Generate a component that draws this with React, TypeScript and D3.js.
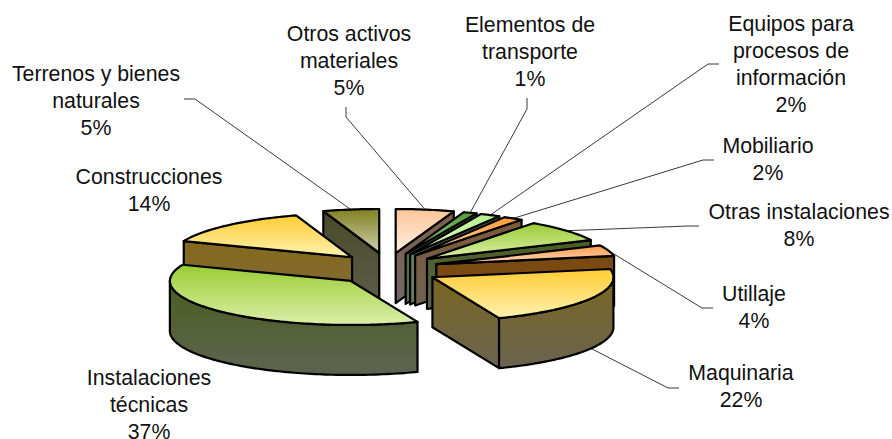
import React from "react";
import * as d3 from "d3";

const categories = [
  "Otros activos materiales",
  "Elementos de transporte",
  "Equipos para procesos de información",
  "Mobiliario",
  "Otras instalaciones",
  "Utillaje",
  "Maquinaria",
  "Instalaciones técnicas",
  "Construcciones",
  "Terrenos y bienes naturales",
];
// they round to the printed percentages
const shares = [5.2, 1.2, 1.8, 1.8, 8, 4, 22, 37, 14, 5];

// [top start, top end, side start, side end]
const sliceColors = [
  ["#ffc596", "#ffefe4", "#7d5f48", "#70686a"],
  ["#4f9a3c", "#9fd08e", "#3f6b34", "#5a7558"],
  ["#b4f08c", "#e4fbd0", "#5f7f4a", "#6c7c62"],
  ["#ff9933", "#ffd9b0", "#7d5a38", "#6f6252"],
  ["#99cc33", "#dcefaa", "#4a5d20", "#5e6650"],
  ["#ff9a4a", "#ffdcc0", "#7a4a12", "#7a4a12"],
  ["#ffcc33", "#fff2b0", "#7a6620", "#6a6450"],
  ["#99cc33", "#dcefaa", "#4a5d20", "#5e6450"],
  ["#ffcc33", "#fff2b0", "#85681c", "#7e6c3c"],
  ["#808020", "#cfcfb0", "#4a4a2a", "#5c5c48"],
];

// label block: x centre, first baseline; leader: from -> elbow, ends on the slice rim
const labelLayout = [
  { x: 349, y: 41, from: [346, 107], elbow: [346, 117] },
  { x: 530, y: 32, from: [527, 98], elbow: [527, 109] },
  { x: 791, y: 31, from: [719, 64], elbow: [708, 64] },
  { x: 768, y: 153, from: [714, 160], elbow: [703, 160] },
  { x: 799, y: 219, from: [699, 226], elbow: [688, 226] },
  { x: 754, y: 301, from: [713, 308], elbow: [702, 308] },
  { x: 741, y: 380, from: [679, 388], elbow: [668, 388] },
  { x: 149, y: 385, from: null, elbow: null },
  { x: 149, y: 184, from: null, elbow: null },
  { x: 96, y: 81, from: [184, 99], elbow: [195, 99] },
];
const labelLines = [
  ["Otros activos", "materiales"],
  ["Elementos de", "transporte"],
  ["Equipos para", "procesos de", "información"],
  ["Mobiliario"],
  ["Otras instalaciones"],
  ["Utillaje"],
  ["Maquinaria"],
  ["Instalaciones", "técnicas"],
  ["Construcciones"],
  ["Terrenos y bienes", "naturales"],
];

const width = 892;
const height = 439;
const cx = 387.3;
const cy = 269.3;
const rx = 181;
const ry = 44;
const explodeX = 51.5;
const explodeY = 16.5;
const depth = 50;
const lineHeight = 26.9;

const pie = d3.pie<number>().sort(null).startAngle(0).endAngle(2 * Math.PI);
const arcs = pie(shares);
const line = d3.line();

// back to front: right hand side clockwise, then the left hand side from the back
const drawOrder = [0, 1, 2, 3, 4, 5, 6, 9, 8, 7];

function centreOf(a: d3.PieArcDatum<number>): [number, number] {
  const mid = (a.startAngle + a.endAngle) / 2;
  return [cx + explodeX * Math.sin(mid), cy - explodeY * Math.cos(mid)];
}

function rimPoint(c: [number, number], angle: number, drop = 0): [number, number] {
  return [c[0] + rx * Math.sin(angle), c[1] - ry * Math.cos(angle) + drop];
}

function arcPoints(c: [number, number], a0: number, a1: number, drop = 0) {
  const steps = Math.max(2, Math.ceil((a1 - a0) / 0.02));
  return d3.range(steps + 1).map(i => rimPoint(c, a0 + ((a1 - a0) * i) / steps, drop));
}

function Slice({ index }: { index: number }) {
  const a = arcs[index];
  const c = centreOf(a);
  const { startAngle: a0, endAngle: a1 } = a;
  const bottom: [number, number] = [c[0], c[1] + depth];
  const paths: { d: string; fill: string }[] = [];
  const side = `url(#side${index})`;

  const cut = (angle: number) =>
    line([c, rimPoint(c, angle), rimPoint(c, angle, depth), bottom])! + "Z";
  if (Math.sin(a0) < -0.001) paths.push({ d: cut(a0), fill: side });
  if (Math.sin(a1) > 0.001) paths.push({ d: cut(a1), fill: side });

  const from = Math.max(a0, Math.PI / 2);
  const to = Math.min(a1, (3 * Math.PI) / 2);
  if (to > from) {
    const rim = [...arcPoints(c, from, to), ...arcPoints(c, from, to, depth).reverse()];
    paths.push({ d: line(rim)! + "Z", fill: side });
  }
  paths.push({
    d: line([c, ...arcPoints(c, a0, a1)])! + "Z",
    fill: `url(#top${index})`,
  });

  return (
    <g stroke="#000" strokeWidth={2.2} strokeLinejoin="round">
      {paths.map((p, i) => (
        <path key={i} d={p.d} fill={p.fill} />
      ))}
    </g>
  );
}

function Leader({ index }: { index: number }) {
  const l = labelLayout[index];
  if (!l.from) return null;
  const a = arcs[index];
  const mid = (a.startAngle + a.endAngle) / 2;
  const rimDrop = index === 6 ? depth : 0;
  const end = rimPoint(centreOf(a), mid, rimDrop);
  const pts = [l.from, ...(l.elbow ? [l.elbow] : []), end] as [number, number][];
  return <path d={line(pts)!} fill="none" stroke="#222" strokeWidth={0.9} />;
}

export default function App() {
  return (
    <svg width={width} height={height} style={{ position: "absolute", left: 0, top: 0 }}>
      <defs>
        {sliceColors.map((c, i) => (
          <React.Fragment key={i}>
            <linearGradient id={`top${i}`} x1="0" y1="0" x2="0" y2="1">
              <stop offset="0" stopColor={c[0]} />
              <stop offset="1" stopColor={c[1]} />
            </linearGradient>
            <linearGradient id={`side${i}`} x1="0" y1="0" x2="0" y2="1">
              <stop offset="0" stopColor={c[2]} />
              <stop offset="1" stopColor={c[3]} />
            </linearGradient>
          </React.Fragment>
        ))}
      </defs>
      {categories.map((_, i) => (
        <Leader key={i} index={i} />
      ))}
      {drawOrder.map(i => (
        <Slice key={i} index={i} />
      ))}
      <g fontFamily="'Liberation Sans', Arial, sans-serif" fontSize={21.3} fill="#111" textAnchor="middle">
        {labelLines.map((lines, i) => (
          <text key={categories[i]} x={labelLayout[i].x} y={labelLayout[i].y}>
            {[...lines, `${Math.round(shares[i])}%`].map((t, j) => (
              <tspan key={j} x={labelLayout[i].x} y={labelLayout[i].y + j * lineHeight}>
                {t}
              </tspan>
            ))}
          </text>
        ))}
      </g>
    </svg>
  );
}
